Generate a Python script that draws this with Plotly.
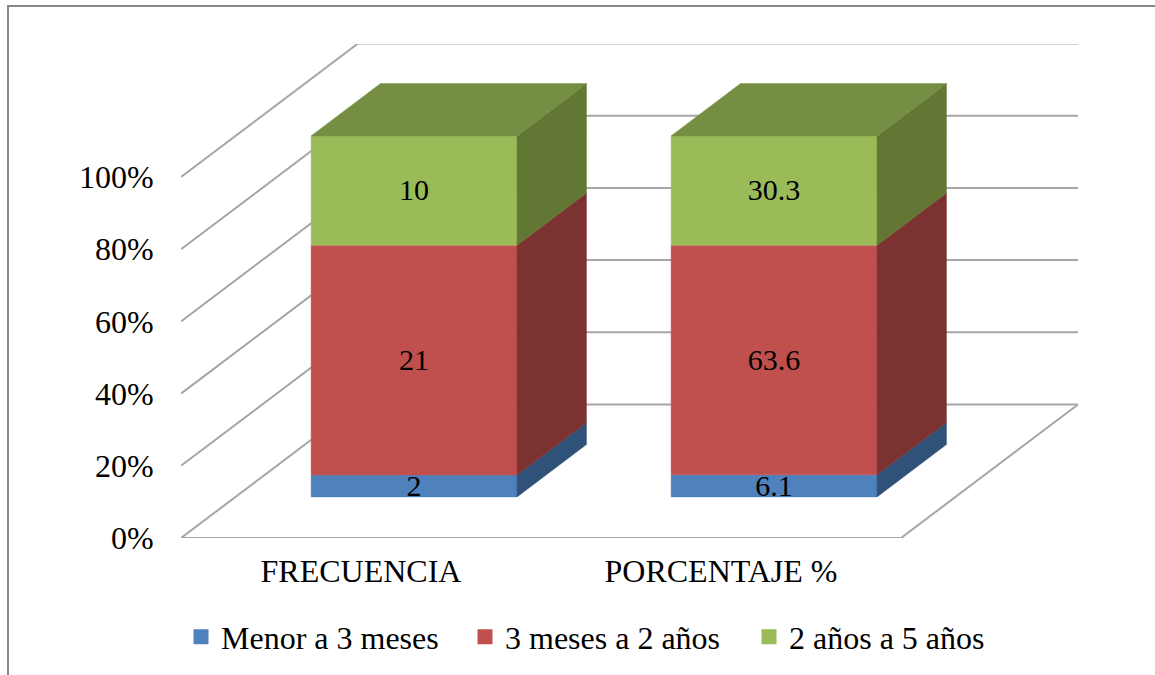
import plotly.graph_objects as go

# ---- data ----
categories = ["FRECUENCIA", "PORCENTAJE %"]
series_names = ["Menor a 3 meses", "3 meses a 2 años", "2 años a 5 años"]
menor_3_meses = [2, 6.1]
de_3_meses_a_2_anos = [21, 63.6]
de_2_a_5_anos = [10, 30.3]
y_ticks = [0, 20, 40, 60, 80, 100]
y_tick_labels = ["0%", "20%", "40%", "60%", "80%", "100%"]
value_labels = [["2", "6.1"], ["21", "63.6"], ["10", "30.3"]]

# ---- style / layout ----
W, H = 1155, 675
L, R, T, B = 181, 1078, 44, 538      # plot box, px
PX_PER_CAT = 360.0
PX_PER_PCT = 3.61
DX = 177 / PX_PER_CAT                # full floor depth, in x-axis units
DY = 133.5 / PX_PER_PCT              # full floor depth, in y-axis units
BAR_W = 0.572
BAR_OFFSET = 0.21
D0, D1 = 0.308, 0.70                 # bar depth start / end along the floor
LABEL_SHIFT = -0.6                   # optical centring of the value labels, in y-axis units
FRONT = ["#4f81bd", "#c0504d", "#9bbb59"]
SIDE = ["#315278", "#7b3230", "#637735"]
TOP = ["#3e6696", "#984341", "#768e43"]
GRID = "#a6a6a6"
FONT = "Liberation Serif"
series = [menor_3_meses, de_3_meses_a_2_anos, de_2_a_5_anos]


def proj(x, v, d):
    return x + d * DX, v + d * DY


def poly(points, color):
    xs = [p[0] for p in points] + [points[0][0]]
    ys = [p[1] for p in points] + [points[0][1]]
    return go.Scatter(x=xs, y=ys, mode="lines", fill="toself", fillcolor=color,
                      line=dict(color=color, width=0.5), showlegend=False,
                      hoverinfo="skip")


fig = go.Figure()

# walls and floor gridlines
gx, gy = [], []
for t in y_ticks:
    a, b = proj(0, t, 0), proj(0, t, 1)
    c = proj(2, t, 1)
    gx += [a[0], b[0], c[0], None]
    gy += [a[1], b[1], c[1], None]
f0, f1 = proj(0, 0, 0), proj(2, 0, 0)
f2 = proj(2, 0, 1)
gx += [f0[0], f1[0], f2[0], None]
gy += [f0[1], f1[1], f2[1], None]
fig.add_trace(go.Scatter(x=gx, y=gy, mode="lines", line=dict(color=GRID, width=2),
                         showlegend=False, hoverinfo="skip", cliponaxis=False))

# stacked bars
lab_x, lab_y, lab_t = [], [], []
for i in range(len(categories)):
    total = sum(s[i] for s in series)
    base = 0.0
    x0 = i + BAR_OFFSET
    x1 = x0 + BAR_W
    for k, s in enumerate(series):
        top = base + s[i] / total * 100
        fig.add_trace(poly([proj(x0, base, D0), proj(x1, base, D0),
                            proj(x1, top, D0), proj(x0, top, D0)], FRONT[k]))
        fig.add_trace(poly([proj(x1, base, D0), proj(x1, base, D1),
                            proj(x1, top, D1), proj(x1, top, D0)], SIDE[k]))
        if k == len(series) - 1:
            fig.add_trace(poly([proj(x0, top, D0), proj(x1, top, D0),
                                proj(x1, top, D1), proj(x0, top, D1)], TOP[k]))
        cx, cy = proj((x0 + x1) / 2, (base + top) / 2 + LABEL_SHIFT, D0)
        lab_x.append(cx)
        lab_y.append(cy)
        lab_t.append(value_labels[k][i])
        base = top

fig.add_trace(go.Scatter(x=lab_x, y=lab_y, text=lab_t, mode="text",
                         textposition="middle center",
                         textfont=dict(family=FONT, size=30, color="#000000"),
                         showlegend=False, hoverinfo="skip", cliponaxis=False))

# legend entries
for name, color in zip(series_names, FRONT):
    fig.add_trace(go.Scatter(x=[None], y=[None], mode="markers", name=name,
                             marker=dict(symbol="square", size=15, color=color)))

frame_x = lambda px: (px - L) / (R - L)
frame_y = lambda py: (B - py) / (B - T)

fig.update_layout(
    width=W, height=H, autosize=False,
    margin=dict(l=L, r=W - R, t=T, b=H - B, pad=0, autoexpand=False),
    paper_bgcolor="#ffffff", plot_bgcolor="rgba(0,0,0,0)",
    font=dict(family=FONT, size=32, color="#000000"),
    xaxis=dict(range=[0, (R - L) / PX_PER_CAT], tickvals=[0.5, 1.5], ticktext=categories,
               showgrid=False, zeroline=False, showline=False, ticks="outside", automargin=False,
               ticklen=5, tickcolor="rgba(0,0,0,0)", tickfont=dict(family=FONT, size=32)),
    yaxis=dict(range=[0, (B - T) / PX_PER_PCT], tickvals=y_ticks, ticktext=y_tick_labels,
               showgrid=False, zeroline=False, showline=False, ticks="outside", automargin=False,
               ticklen=20, tickcolor="rgba(0,0,0,0)", tickfont=dict(family=FONT, size=32)),
    showlegend=True,
    legend=dict(orientation="h", x=frame_x(181), y=frame_y(637),
                xanchor="left", yanchor="middle", itemclick=False, itemdoubleclick=False,
                font=dict(family=FONT, size=32), entrywidth=239, entrywidthmode="pixels",
                itemwidth=30, bgcolor="rgba(0,0,0,0)"),
    shapes=[dict(type="path", xref="paper", yref="paper",
                 path=f"M {frame_x(8)} {frame_y(H)} L {frame_x(8)} {frame_y(6)} L {frame_x(W)} {frame_y(6)}",
                 line=dict(color="#868686", width=2), layer="below")],
)

fig.write_html("out.html", config={"displayModeBar": False},
               post_script="document.body.style.margin='0';")
